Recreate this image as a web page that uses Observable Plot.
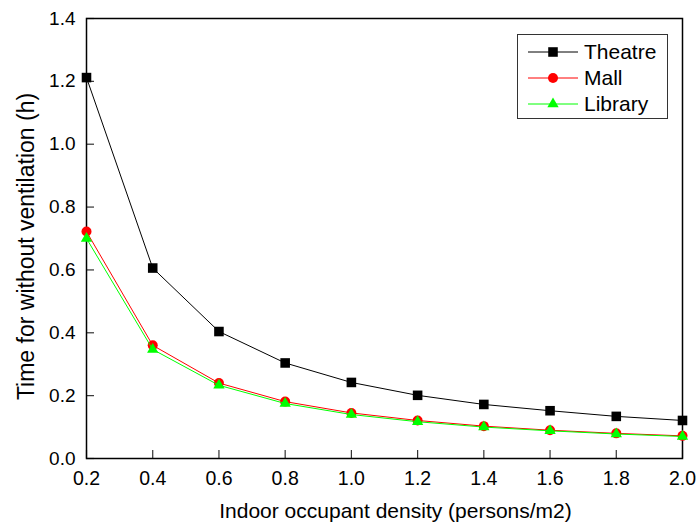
<!DOCTYPE html>
<html>
<head>
<meta charset="utf-8">
<script src="https://cdn.jsdelivr.net/npm/d3@7"></script>
<script src="https://cdn.jsdelivr.net/npm/@observablehq/plot@0.6"></script>
<style>
  html, body { margin: 0; padding: 0; background: #fff; }
  #wrap { position: relative; width: 696px; height: 526px; font-family: "Liberation Sans", Arial, sans-serif; }
  #legend { position: absolute; left: 517px; top: 34px; width: 151px; height: 85px; border: 1px solid #333; background: #fff; box-sizing: border-box; }
  .row { position: absolute; left: 10px; height: 22px; display: flex; align-items: center; font-size: 21px; color: #000; white-space: nowrap; }
  .row svg { margin-right: 6px; }
</style>
</head>
<body>
<div id="wrap">
  <div id="chart"></div>
  <div id="legend"></div>
</div>
<script>
const density = [0.2, 0.4, 0.6, 0.8, 1.0, 1.2, 1.4, 1.6, 1.8, 2.0];
const theatre = [1.212, 0.606, 0.404, 0.304, 0.242, 0.201, 0.172, 0.152, 0.134, 0.121];
const mall    = [0.722, 0.360, 0.240, 0.181, 0.145, 0.121, 0.103, 0.090, 0.080, 0.072];
const library = [0.700, 0.347, 0.233, 0.175, 0.140, 0.117, 0.100, 0.088, 0.078, 0.070];
const seriesNames = ["Theatre", "Mall", "Library"];
const seriesColors = ["#000000", "#ff0000", "#00ff00"];
const seriesSymbols = ["square", "circle", "triangle"];
const xTicks = [0.2, 0.4, 0.6, 0.8, 1.0, 1.2, 1.4, 1.6, 1.8, 2.0];
const yTicks = [0.0, 0.2, 0.4, 0.6, 0.8, 1.0, 1.2, 1.4];

const allSeries = [theatre, mall, library];
const rows = [];
allSeries.forEach((vals, i) => vals.forEach((v, j) => rows.push({series: seriesNames[i], x: density[j], y: v})));

const symR = {square: 5.4, circle: 5, triangle: 4.2};
const marks = [];
seriesNames.forEach((name, i) => {
  const d = rows.filter(r => r.series === name);
  marks.push(Plot.line(d, {x: "x", y: "y", stroke: seriesColors[i], strokeWidth: 1}));
  marks.push(Plot.dot(d, {x: "x", y: "y", symbol: () => seriesSymbols[i], r: symR[seriesSymbols[i]], fill: seriesColors[i], stroke: "none"}));
});

const W = 696, H = 526, ML = 86, MR = 14, MT = 18, MB = 68;
const TICK = 8;
const fmt = d3.format(".1f");
const chart = Plot.plot({
  width: W,
  height: H,
  marginLeft: ML,
  marginRight: MR,
  marginTop: MT,
  marginBottom: MB,
  style: {fontFamily: "'Liberation Sans', Arial, sans-serif", color: "#000", background: "#fff"},
  x: {domain: [0.2, 2.0]},
  y: {domain: [0, 1.4]},
  symbol: {type: "identity"},
  marks: [
    // inward ticks: outward axis ticks shifted into the frame
    Plot.axisX(xTicks, {tickSize: TICK, dy: -TICK, tickFormat: () => "", label: null, stroke: "#333", strokeWidth: 1.2}),
    Plot.axisY(yTicks, {tickSize: TICK, dx: TICK, tickFormat: () => "", label: null, stroke: "#333", strokeWidth: 1.2}),
    Plot.frame({stroke: "#000", strokeWidth: 1.5}),
    // tick labels
    Plot.text(xTicks, {x: d => d, frameAnchor: "bottom", lineAnchor: "middle", dy: 20, text: d => fmt(d), fontSize: 19.5, fill: "#000", ariaLabel: "xticklabels"}),
    Plot.text(yTicks, {y: d => d, frameAnchor: "left", textAnchor: "end", lineAnchor: "middle", dx: -11, text: d => fmt(d), fontSize: 19, fill: "#000", ariaLabel: "yticklabels"}),
    // axis titles
    Plot.text(["Indoor occupant density (persons/m2)"], {frameAnchor: "bottom", textAnchor: "middle", lineAnchor: "middle", dx: 11, dy: 53, fontSize: 21, text: d => d}),
    Plot.text(["Time for without ventilation (h)"], {frameAnchor: "left", textAnchor: "middle", lineAnchor: "middle", dx: -60, dy: 8, rotate: -90, fontSize: 23, text: d => d}),
    ...marks
  ]
});
document.getElementById("chart").appendChild(chart);

// slightly taller tick-label glyphs, as in the reference
d3.select(chart).selectAll('g[aria-label="xticklabels"] text, g[aria-label="yticklabels"] text').each(function() {
  const b = this.getBBox();
  const cx = b.x + b.width / 2, cy = b.y + b.height / 2;
  const prev = this.getAttribute("transform") || "";
  this.setAttribute("transform", `${prev} translate(${cx},${cy}) scale(1,1.15) translate(${-cx},${-cy})`.trim());
});

// legend
const legend = document.getElementById("legend");
seriesNames.forEach((name, i) => {
  const row = document.createElement("div");
  row.className = "row";
  row.style.top = (6 + i * 26) + "px";
  const sv = d3.create("svg").attr("width", 50).attr("height", 20);
  sv.append("line").attr("x1", 0).attr("x2", 50).attr("y1", 10).attr("y2", 10).attr("stroke", seriesColors[i]).attr("stroke-width", 1);
  const sym = {square: d3.symbolSquare, circle: d3.symbolCircle, triangle: d3.symbolTriangle}[seriesSymbols[i]];
  const r = symR[seriesSymbols[i]];
  sv.append("path").attr("d", d3.symbol(sym, Math.PI * r * r)()).attr("transform", "translate(25,10)").attr("fill", seriesColors[i]);
  row.appendChild(sv.node());
  const t = document.createElement("span");
  t.textContent = name;
  row.appendChild(t);
  legend.appendChild(row);
});
</script>
</body>
</html>
